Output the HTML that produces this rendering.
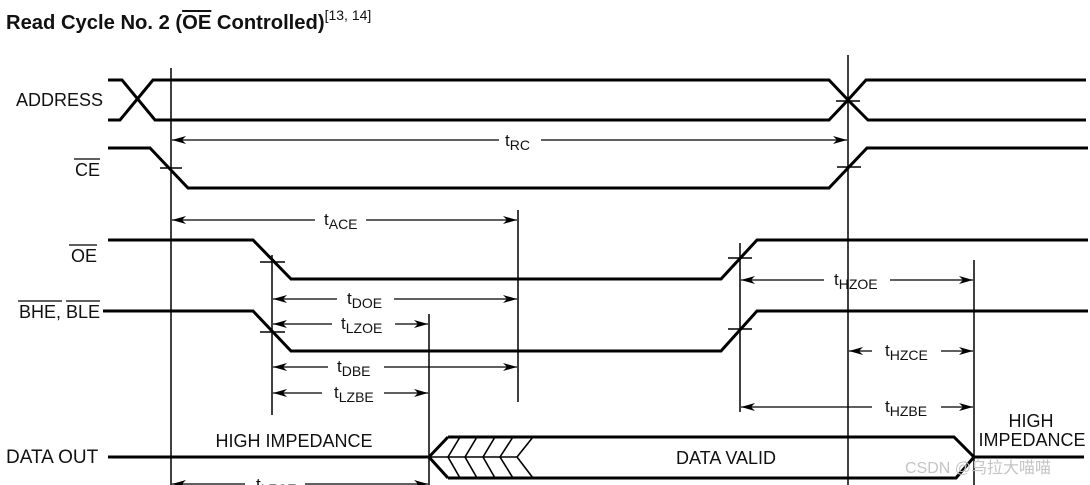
<!DOCTYPE html>
<html><head><meta charset="utf-8"><style>
html,body{margin:0;padding:0;background:#fff;width:1090px;height:485px;overflow:hidden}
text{font-family:"Liberation Sans",Arial,sans-serif;fill:#111}
</style></head><body>
<svg width="1090" height="485" viewBox="0 0 1090 485" xmlns="http://www.w3.org/2000/svg">
<defs>
<marker id="e" viewBox="0 0 14 8" refX="14" refY="4" markerWidth="14" markerHeight="8" markerUnits="userSpaceOnUse" orient="auto"><path d="M0,0 L14,4 L0,8 L4,4 z" fill="#000"/></marker>
<marker id="s" viewBox="0 0 14 8" refX="0" refY="4" markerWidth="14" markerHeight="8" markerUnits="userSpaceOnUse" orient="auto"><path d="M14,0 L0,4 L14,8 L10,4 z" fill="#000"/></marker>
</defs>
<text x="6" y="29" font-size="20.2" font-weight="bold">Read Cycle No. 2 (<tspan text-decoration="overline">OE</tspan> Controlled)<tspan font-size="14" font-weight="normal" dy="-9">[13, 14]</tspan></text>

<g font-size="18" text-anchor="end">
<text x="103" y="106">ADDRESS</text>
<text x="100" y="176">CE</text>
<text x="97" y="262">OE</text>
<text x="100" y="318">BHE, BLE</text>
</g>
<g stroke="#000" stroke-width="1.2">
<line x1="74" y1="159" x2="100" y2="159"/>
<line x1="69" y1="245" x2="97" y2="245"/>
<line x1="18" y1="301" x2="62" y2="301"/>
<line x1="66" y1="301" x2="100" y2="301"/>
</g>
<text x="6" y="463" font-size="19">DATA OUT</text>

<g fill="none" stroke="#000" stroke-width="3" stroke-linejoin="miter">
<polyline points="108,80 122,80 155,120 829,120 848,100 866,80 1086,80"/>
<polyline points="108,120 120,120 153,80 829,80 848,100 868,120 1086,120"/>
<polyline points="108,148 150,148 188,188 829,188 867,148 1088,148"/>
<polyline points="108,240 253,240 291,279 721,279 757,240 1088,240"/>
<polyline points="103,311 253,311 291,351 721,351 757,311 1088,311"/>
<line x1="108" y1="457" x2="429" y2="457"/>
<polyline points="448,437 429,457 448,478"/>
<polyline points="448,437 954,437 974,457 1084,457"/>
<polyline points="448,478 956,478 974,457"/>
</g>
<g stroke="#000" stroke-width="1.6" fill="none">
<line x1="429" y1="457" x2="517" y2="457"/>
<polyline points="460,437 448,457 460,478"/>
<polyline points="477,437 465,457 477,478"/>
<polyline points="495,437 483,457 495,478"/>
<polyline points="513,437 500,457 513,478"/>
<polyline points="533,437 517,457 533,478"/>
</g>
<g stroke="#000" stroke-width="1.5">
<line x1="171" y1="68" x2="171" y2="485"/>
<line x1="848" y1="55" x2="848" y2="485"/>
<line x1="518" y1="210" x2="518" y2="402"/>
<line x1="272" y1="255" x2="272" y2="415"/>
<line x1="740" y1="243" x2="740" y2="412"/>
<line x1="429" y1="314" x2="429" y2="485"/>
<line x1="974" y1="260" x2="974" y2="485"/>
<line x1="160" y1="168" x2="182" y2="168"/>
<line x1="836" y1="101" x2="860" y2="101"/>
<line x1="837" y1="167" x2="861" y2="167"/>
<line x1="260" y1="262" x2="285" y2="262"/>
<line x1="260" y1="332" x2="285" y2="332"/>
<line x1="728" y1="258" x2="752" y2="258"/>
<line x1="728" y1="329" x2="752" y2="329"/>
</g>
<g stroke="#000" stroke-width="1.2">
<line x1="172" y1="140" x2="499" y2="140" marker-start="url(#s)"/>
<line x1="541" y1="140" x2="847" y2="140" marker-end="url(#e)"/>
<line x1="172" y1="220" x2="315" y2="220" marker-start="url(#s)"/>
<line x1="366" y1="220" x2="517" y2="220" marker-end="url(#e)"/>
<line x1="273" y1="299" x2="337" y2="299" marker-start="url(#s)"/>
<line x1="394" y1="299" x2="517" y2="299" marker-end="url(#e)"/>
<line x1="273" y1="324" x2="332" y2="324" marker-start="url(#s)"/>
<line x1="395" y1="324" x2="428" y2="324" marker-end="url(#e)"/>
<line x1="273" y1="367" x2="328" y2="367" marker-start="url(#s)"/>
<line x1="384" y1="367" x2="517" y2="367" marker-end="url(#e)"/>
<line x1="273" y1="393" x2="322" y2="393" marker-start="url(#s)"/>
<line x1="384" y1="393" x2="428" y2="393" marker-end="url(#e)"/>
<line x1="741" y1="280" x2="824" y2="280" marker-start="url(#s)"/>
<line x1="890" y1="280" x2="973" y2="280" marker-end="url(#e)"/>
<line x1="849" y1="351" x2="872" y2="351" marker-start="url(#s)"/>
<line x1="941" y1="351" x2="973" y2="351" marker-end="url(#e)"/>
<line x1="741" y1="407" x2="872" y2="407" marker-start="url(#s)"/>
<line x1="941" y1="407" x2="973" y2="407" marker-end="url(#e)"/>
<line x1="172" y1="484" x2="245" y2="484" marker-start="url(#s)"/>
<line x1="305" y1="484" x2="428" y2="484" marker-end="url(#e)"/>
</g>
<g font-size="17">
<text x="505" y="146">t<tspan font-size="14" dy="4">RC</tspan></text>
<text x="324" y="225">t<tspan font-size="14" dy="4">ACE</tspan></text>
<text x="347" y="304">t<tspan font-size="14" dy="4">DOE</tspan></text>
<text x="341" y="329">t<tspan font-size="14" dy="4">LZOE</tspan></text>
<text x="337" y="372">t<tspan font-size="14" dy="4">DBE</tspan></text>
<text x="334" y="398">t<tspan font-size="14" dy="4">LZBE</tspan></text>
<text x="834" y="285">t<tspan font-size="14" dy="4">HZOE</tspan></text>
<text x="885" y="356">t<tspan font-size="14" dy="4">HZCE</tspan></text>
<text x="885" y="412">t<tspan font-size="14" dy="4">HZBE</tspan></text>
<text x="256" y="490">t<tspan font-size="14" dy="4">LZCE</tspan></text>
</g>
<g font-size="18" text-anchor="middle">
<text x="294" y="447">HIGH IMPEDANCE</text>
<text x="726" y="464">DATA VALID</text>
<text x="1031" y="427">HIGH</text>
<text x="1032" y="446">IMPEDANCE</text>
</g>
<text x="905" y="473" font-size="16" style="fill:#c4c4c4;font-family:'Liberation Sans','Noto Sans CJK SC',sans-serif">CSDN @乌拉大喵喵</text>
</svg>
</body></html>
